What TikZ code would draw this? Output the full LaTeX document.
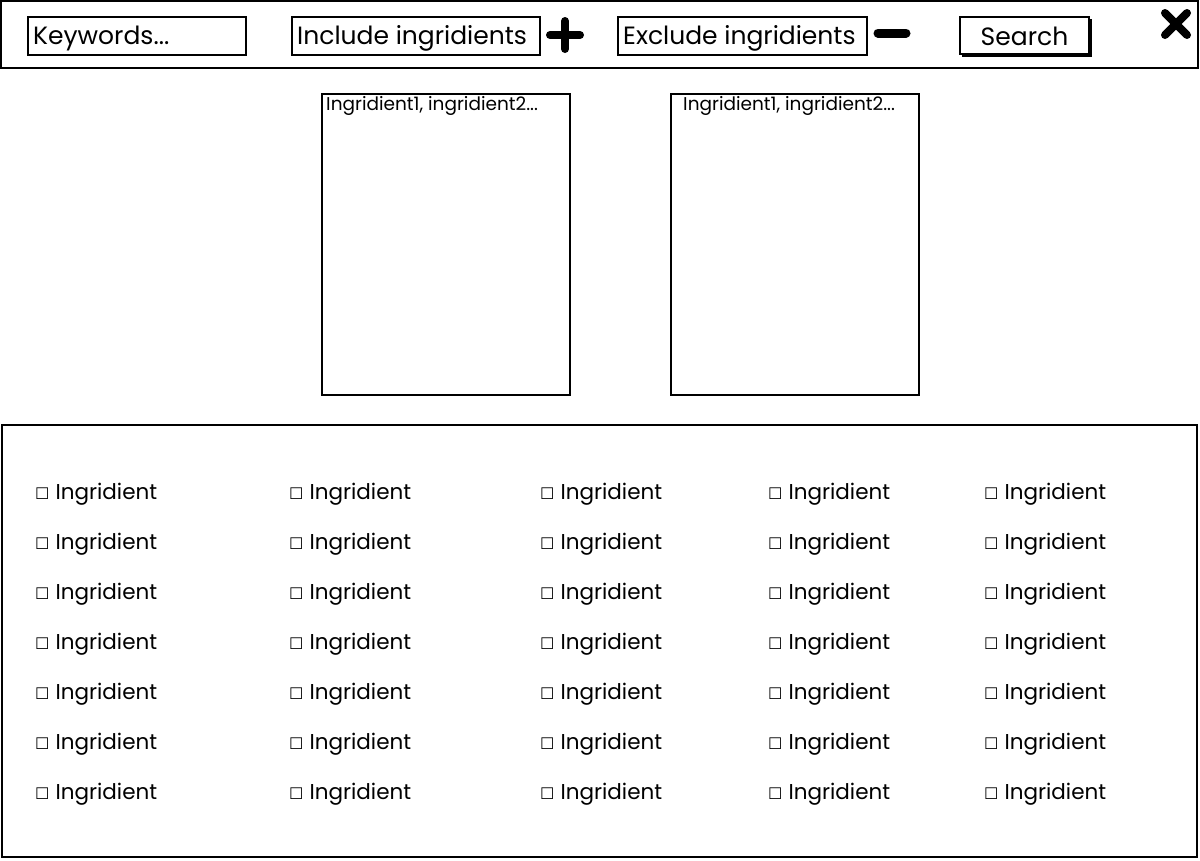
\documentclass[tikz,border=0pt]{standalone}
\usepackage{fontspec}
\setmainfont{Poppins}
\newfontfamily\symfont{DejaVu Sans}
\begin{document}
\begin{tikzpicture}[x=1pt,y=-1pt,
  frame/.style={draw=black,line width=2pt},
  field/.style={draw=black,line width=2pt,fill=white,inner sep=0pt,anchor=north west},
  bigtxt/.style={font=\fontsize{25}{29}\selectfont},
  smalltxt/.style={font=\fontsize{18.5}{22}\selectfont},
  itemtxt/.style={font=\fontsize{21.5}{25}\selectfont,anchor=west,inner sep=0pt},
  iconbar/.style={line width=8pt}
]
\useasboundingbox (0,0) rectangle (1200,860);
\fill[white] (0,0) rectangle (1200,860);
% top bar
\draw[frame] (1,1) rectangle (1198,68);
\node[field,minimum width=218pt,minimum height=38pt] (kw) at (27,16) {};
\node[bigtxt,anchor=west,inner sep=0pt] (kwt) at ([shift={(6pt,-2pt)}]kw.west) {Keywords...};
\node[field,minimum width=248pt,minimum height=38pt] (inc) at (291,16) {};
\node[bigtxt,anchor=west,inner sep=0pt] (inct) at ([shift={(6pt,-2pt)}]inc.west) {Include ingridients};
\node[field,minimum width=249pt,minimum height=38pt] (exc) at (617,16) {};
\node[bigtxt,anchor=west,inner sep=0pt] (exct) at ([shift={(6pt,-2pt)}]exc.west) {Exclude ingridients};
% plus
\coordinate (plus) at (565,35);
\draw[iconbar,line cap=round] ([xshift=-15pt]plus) -- ([xshift=15pt]plus);
\draw[iconbar,line cap=round] ([yshift=-14pt]plus) -- ([yshift=14pt]plus);
% minus
\coordinate (minus) at (892,33);
\draw[line width=9pt,line cap=round] ([xshift=-14pt]minus) -- ([xshift=14pt]minus);
% search button with shadow
\fill[black] (962,19) rectangle (1092,57);
\node[field,minimum width=129pt,minimum height=37pt] (search) at (959,16) {};
\node[bigtxt,inner sep=0pt] (searcht) at ([yshift=-1pt]search.center) {Search};
% close icon
\coordinate (close) at (1176,24);
\draw[line width=8pt,line cap=round] ([shift={(-11pt,-11pt)}]close) -- ([shift={(11pt,11pt)}]close);
\draw[line width=8pt,line cap=round] ([shift={(-11pt,11pt)}]close) -- ([shift={(11pt,-11pt)}]close);
% two lists
\node[field,minimum width=248pt,minimum height=301pt] (listA) at (321,93) {};
\node[smalltxt,anchor=west,inner sep=0pt] (listAt) at ([shift={(5pt,-13pt)}]listA.north west) {Ingridient1, ingridient2...};
\node[field,minimum width=248pt,minimum height=301pt] (listB) at (670,93) {};
\node[smalltxt,anchor=west,inner sep=0pt] (listBt) at ([shift={(13pt,-13pt)}]listB.north west) {Ingridient1, ingridient2...};
% bottom panel
\draw[frame] (2,425) rectangle (1197,857);
\foreach \cx [count=\ci] in {35,289,540,768,984}{
  \foreach \r in {0,...,6}{
    \node[itemtxt] (item-\ci-\r) at (\cx,494+50*\r) {{\symfont\fontsize{16}{18}\selectfont ☐}\hspace{6pt}Ingridient};
  }
}
\end{tikzpicture}
\end{document}
